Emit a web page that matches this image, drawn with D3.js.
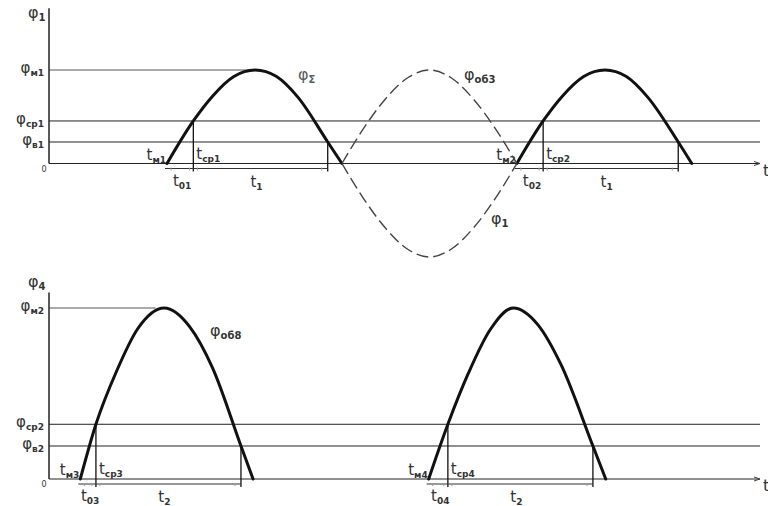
<!DOCTYPE html>
<html>
<head>
<meta charset="utf-8">
<script src="https://cdn.jsdelivr.net/npm/d3@7"></script>
<style>
  body { margin: 0; background: #fff; }
  text { font-family: "DejaVu Sans", sans-serif; fill: #333; }
</style>
</head>
<body>
<div id="chart"></div>
<script>
// time positions (0..100 along the t axis) and normalised values
var topHump1X = [16.6, 20.3, 23.0, 26.0, 29.0, 32.0, 35.0, 39.2, 41.2];
var topHump1Y = [0, 0.455, 0.72, 0.93, 1, 0.93, 0.71, 0.23, 0];
var topHump2X = [65.8, 69.5, 72.2, 75.2, 78.2, 81.2, 84.2, 88.5, 90.4];
var topHump2Y = [0, 0.455, 0.72, 0.93, 1, 0.93, 0.71, 0.23, 0];
var phiOb3X = [41.2, 44.2, 47.2, 50.5, 53.5, 56.5, 59.8, 62.8, 65.8];
var phiOb3Y = [0, 0.37, 0.68, 0.92, 1, 0.92, 0.68, 0.37, 0];
var phi1Y = [0, -0.37, -0.68, -0.92, -1, -0.92, -0.68, -0.37, 0];

var botHump1X = [4.4, 6.6, 9.5, 12.5, 16.2, 19.8, 23.0, 27.0, 28.7];
var botHump1Y = [0, 0.32, 0.63, 0.88, 1, 0.89, 0.65, 0.193, 0];
var botHump2X = [53.4, 56.1, 59.0, 62.0, 65.3, 68.8, 72.0, 76.5, 78.3];
var botHump2Y = [0, 0.32, 0.62, 0.87, 1, 0.9, 0.67, 0.193, 0];

// levels
var topLevels = [
  { name: "м1", value: 1 },
  { name: "ср1", value: 0.455 },
  { name: "в1", value: 0.23 }
];
var botLevels = [
  { name: "м2", value: 1 },
  { name: "ср2", value: 0.32 },
  { name: "в2", value: 0.193 }
];

// markers: start of hump, t_cp vertical, descending vertical
var topMarks = [
  { start: 16.6, cp: 20.3, end: 39.2, tm: "м1", tcp: "ср1", t0: "01", t: "1" },
  { start: 65.8, cp: 69.5, end: 88.5, tm: "м2", tcp: "ср2", t0: "02", t: "1" }
];
var botMarks = [
  { start: 4.4, cp: 6.6, end: 27.0, tm: "м3", tcp: "ср3", t0: "03", t: "2" },
  { start: 53.4, cp: 56.1, end: 76.5, tm: "м4", tcp: "ср4", t0: "04", t: "2" }
];

var width = 768, height = 506;

var svg = d3.select("#chart")
  .append("svg")
  .attr("width", width)
  .attr("height", height);

var x = d3.scaleLinear().domain([0, 100]).range([49, 760]);
var yTop = d3.scaleLinear().domain([-1, 1]).range([257, 70]);
var yBot = d3.scaleLinear().domain([0, 1]).range([479, 308]);

function zip(xs, ys) {
  return xs.map(function (v, i) { return [v, ys[i]]; });
}

function label(g, px, py, main, sub, size, anchor) {
  var t = g.append("text")
    .attr("x", px)
    .attr("y", py)
    .attr("text-anchor", anchor || "start")
    .style("font-size", size + "px");
  t.append("tspan").text(main);
  t.append("tspan")
    .attr("dy", 3)
    .style("font-size", Math.round(size * 0.6) + "px")
    .style("font-weight", "bold")
    .text(sub);
  return t;
}

function panel(y, levels, humps, marks, axisTop, mLineEnd, axisName, axisLabelY) {
  var g = svg.append("g");
  var y0 = y(0);

  // level lines
  levels.forEach(function (d, i) {
    g.append("line")
      .attr("x1", x(0)).attr("x2", i === 0 ? x(mLineEnd) : x(100))
      .attr("y1", y(d.value)).attr("y2", y(d.value))
      .style("stroke", i === 0 ? "#555" : "#222")
      .style("stroke-width", 1);
    label(g, 44, y(d.value) + 3, "φ", d.name, 15, "end");
  });

  // baseline
  g.append("line")
    .attr("x1", x(0)).attr("x2", x(100))
    .attr("y1", y0).attr("y2", y0)
    .style("stroke", "#222").style("stroke-width", 1.2);
  g.append("path")
    .attr("d", "M" + (x(100) - 6) + "," + (y0 - 2) + "L" + x(100) + "," + y0 + "L" + (x(100) - 6) + "," + (y0 + 2))
    .style("fill", "none").style("stroke", "#444");
  g.append("text").attr("x", x(100) + 3).attr("y", y0 + 12)
    .style("font-size", "16px").text("t");

  // y axis
  g.append("line")
    .attr("x1", x(0)).attr("x2", x(0))
    .attr("y1", y(axisTop)).attr("y2", y0)
    .style("stroke", "#222").style("stroke-width", 1.5);
  label(g, 28, axisLabelY, "φ", axisName, 16, "start");
  g.append("text").attr("x", x(0) - 5).attr("y", y0 + 8)
    .attr("text-anchor", "middle")
    .style("font-size", "8px").text("0");

  // humps
  var line = d3.line()
    .x(function (d) { return x(d[0]); })
    .y(function (d) { return y(d[1]); })
    .curve(d3.curveMonotoneX);
  humps.forEach(function (h) {
    g.append("path")
      .attr("d", line(h))
      .style("fill", "none")
      .style("stroke", "#111")
      .style("stroke-width", 3)
      .style("stroke-linecap", "round");
  });

  // markers and dimension lines
  marks.forEach(function (m) {
    var dimY = y0 + 5;
    g.append("line")
      .attr("x1", x(m.cp)).attr("x2", x(m.cp))
      .attr("y1", y(levels[1].value)).attr("y2", dimY + 3)
      .style("stroke", "#111").style("stroke-width", 1.3);
    g.append("line")
      .attr("x1", x(m.end)).attr("x2", x(m.end))
      .attr("y1", y(levels[2].value)).attr("y2", dimY + 3)
      .style("stroke", "#111").style("stroke-width", 1.3);
    g.append("line")
      .attr("x1", x(m.start) - 2).attr("x2", x(m.end))
      .attr("y1", dimY).attr("y2", dimY)
      .style("stroke", "#333").style("stroke-width", 1.2);
    [x(m.start) + 4, x(m.cp) - 4, x(m.cp) + 4, x(m.end) - 6].forEach(function (px) {
      g.append("line")
        .attr("x1", px).attr("x2", px)
        .attr("y1", dimY - 1).attr("y2", dimY + 2)
        .style("stroke", "#999").style("stroke-width", 1);
    });

    label(g, x(m.start) - 1, y0 - 4, "t", m.tm, 15, "end");
    label(g, x(m.cp) + 3, y0 - 5, "t", m.tcp, 15, "start");
    label(g, (x(m.start) + x(m.cp)) / 2 + 2, y0 + 22, "t", m.t0, 15, "middle");
    label(g, (x(m.cp) + x(m.end)) / 2 - 4, y0 + 23, "t", m.t, 15, "middle");
  });
  return g;
}

var gTop = panel(yTop, topLevels,
  [zip(topHump1X, topHump1Y), zip(topHump2X, topHump2Y)],
  topMarks, 1.66, 29.0, "1", 18);

var gBot = panel(yBot, botLevels,
  [zip(botHump1X, botHump1Y), zip(botHump2X, botHump2Y)],
  botMarks, 1.09, 15.0, "4", 287);

// dashed curves in the top panel
var dashLine = d3.line()
  .x(function (d) { return x(d[0]); })
  .y(function (d) { return yTop(d[1]); })
  .curve(d3.curveMonotoneX);
[zip(phiOb3X, phiOb3Y), zip(phiOb3X, phi1Y)].forEach(function (c) {
  gTop.append("path")
    .attr("d", dashLine(c))
    .style("fill", "none")
    .style("stroke", "#444")
    .style("stroke-width", 1.4)
    .style("stroke-dasharray", "12,5");
});

// curve names
label(gTop, 298, 80, "φ", "Σ", 16, "start").style("opacity", 0.8);
label(gTop, 464, 80, "φ", "об3", 16, "start");
label(gTop, 491, 224, "φ", "1", 16, "start");
label(gBot, 210, 336, "φ", "об8", 16, "start");
</script>
</body>
</html>
